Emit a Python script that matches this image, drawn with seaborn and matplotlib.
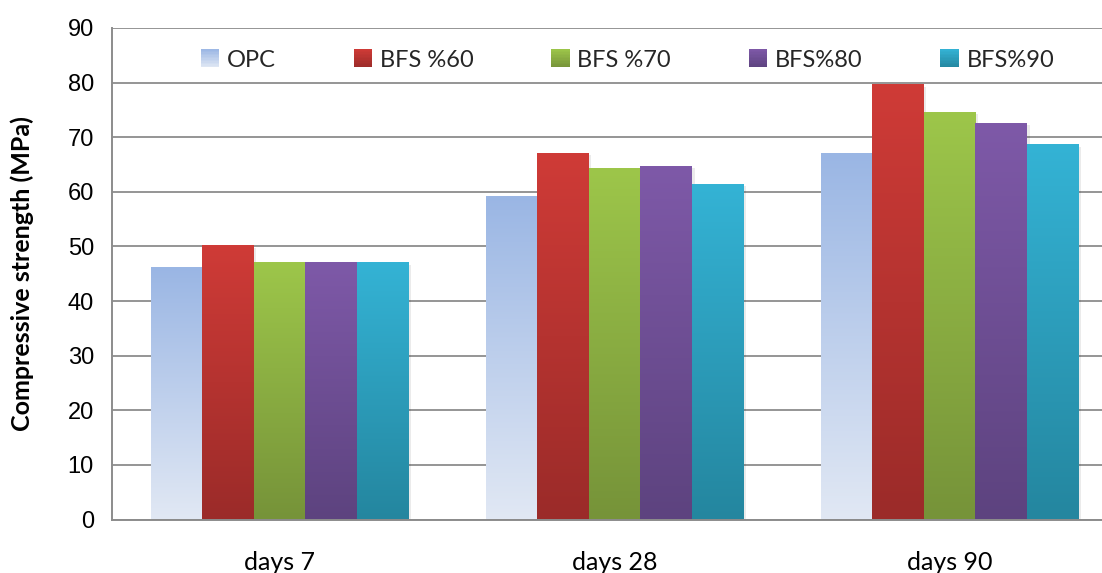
import numpy as np
import pandas as pd
import matplotlib
matplotlib.use("Agg")
import matplotlib.pyplot as plt
import matplotlib.colors as mcolors
from matplotlib.patches import Rectangle
from matplotlib.legend_handler import HandlerBase
import seaborn as sns

categories = ["days 7", "days 28", "days 90"]
series = ["OPC", "BFS %60", "BFS %70", "BFS%80", "BFS%90"]
opc = [46.1, 59.1, 67.0]
bfs60 = [50.1, 67.0, 79.5]
bfs70 = [47.0, 64.1, 74.5]
bfs80 = [46.9, 64.6, 72.5]
bfs90 = [46.9, 61.3, 68.5]
yticks = [0, 10, 20, 30, 40, 50, 60, 70, 80, 90]
ylabel = "Compressive strength (MPa)"

# top colour, bottom colour of each bar gradient
grad_top = ["#9AB6E4", "#CF3B37", "#9DC64A", "#7E59A8", "#34B3D5"]
grad_bot = ["#E1E8F4", "#9B2B29", "#769339", "#5D437F", "#24869F"]
mid_col = ["#B9CCEC", "#B83330", "#8AAE42", "#6E4F95", "#2C9DBA"]

values = [opc, bfs60, bfs70, bfs80, bfs90]
rows = []
for s, vals in zip(series, values):
    for c, v in zip(categories, vals):
        rows.append({"cat": c, "series": s, "value": v})
df = pd.DataFrame(rows)

sns.set_theme(style="white")
plt.rcParams['font.family'] = ['Liberation Sans', 'DejaVu Sans']

W, H = 1102, 573
fig = plt.figure(figsize=(W / 100, H / 100), dpi=100)
left, right, top, bottom = 112, 1117, 28, 519.5
ax = fig.add_axes([left / W, (H - bottom) / H, (right - left) / W, (bottom - top) / H])

sns.barplot(data=df, x="cat", y="value", hue="series", order=categories,
            hue_order=series, palette=mid_col, width=0.77, ax=ax,
            legend=False, saturation=1, linewidth=0, zorder=3)

ax.set_ylim(0, 90)
ax.set_xlim(-0.5, 2.5)
ax.set_yticks(yticks)
ax.yaxis.grid(True, color="#8C8C8C", linewidth=1.3, zorder=0)
ax.set_axisbelow(True)

# gradient fill of each bar
patches = [p for p in ax.patches if isinstance(p, Rectangle) and p.get_height() > 0]
n_cat = len(categories)
for i, p in enumerate(patches):
    si = i // n_cat
    x0, w, h = p.get_x(), p.get_width(), p.get_height()
    cmap = mcolors.LinearSegmentedColormap.from_list(
        "g%d" % i, [grad_bot[si], grad_top[si]])
    grad = np.linspace(0, 1, 256).reshape(-1, 1)
    ax.add_patch(Rectangle((x0 + 0.004, 0), w + 0.004, h - 0.3, facecolor="#000000",
                           alpha=0.08, linewidth=0, zorder=2.5))
    ax.imshow(grad, extent=[x0, x0 + w, 0, h], origin="lower", aspect="auto",
              cmap=cmap, zorder=3.5, interpolation="bilinear")
    p.set_alpha(0)

ax.set_ylim(0, 90)
ax.set_xlim(-0.5, 2.5)

for sp in ["top", "right"]:
    ax.spines[sp].set_visible(False)
for sp in ["left", "bottom"]:
    ax.spines[sp].set_color("#8C8C8C")
    ax.spines[sp].set_linewidth(1.4)
    ax.spines[sp].set_zorder(5)

ax.tick_params(axis="y", length=0, pad=13, labelsize=17, labelcolor="#000000")
ax.tick_params(axis="x", length=0, pad=23, labelsize=18, labelcolor="#000000")
for lab in ax.get_xticklabels():
    lab.set_fontfamily(["Lato", "DejaVu Sans"])
ax.set_xlabel("")
ax.set_ylabel(ylabel, fontsize=18, fontweight="bold", family=["Lato", "DejaVu Sans"],
              color="#000000")
ax.yaxis.set_label_coords(-0.0776, 0.5)


class GradientHandler(HandlerBase):
    def __init__(self, top_c, bot_c, n=12):
        super().__init__()
        self.top_c, self.bot_c, self.n = top_c, bot_c, n

    def create_artists(self, legend, orig_handle, xdescent, ydescent, width, height,
                       fontsize, trans):
        arts = []
        t = np.array(mcolors.to_rgb(self.top_c))
        b = np.array(mcolors.to_rgb(self.bot_c))
        side = min(width, height)
        x0 = -xdescent
        y0 = -ydescent + (height - side) / 2
        for k in range(self.n):
            f = (k + 0.5) / self.n
            col = b + (t - b) * f
            arts.append(Rectangle((x0, y0 + side * k / self.n), side, side / self.n + 0.3,
                                  facecolor=col, linewidth=0, transform=trans))
        return arts


handles = [Rectangle((0, 0), 1, 1, facecolor=c, linewidth=0) for c in mid_col]
hmap = {h: GradientHandler(grad_top[i], grad_bot[i]) for i, h in enumerate(handles)}
leg = ax.legend(handles, series, loc="center", bbox_to_anchor=(0.513, 0.935),
                ncol=5, frameon=True, handlelength=0.8, handleheight=0.8,
                handletextpad=0.3, columnspacing=3.3, borderaxespad=0, borderpad=0.2,
                prop={"family": ["Lato", "DejaVu Sans"], "size": 17}, handler_map=hmap)
leg.get_frame().set_facecolor("white")
leg.get_frame().set_edgecolor("none")
leg.get_frame().set_alpha(1)
leg.set_zorder(6)

fig.savefig("out.png", dpi=100)
